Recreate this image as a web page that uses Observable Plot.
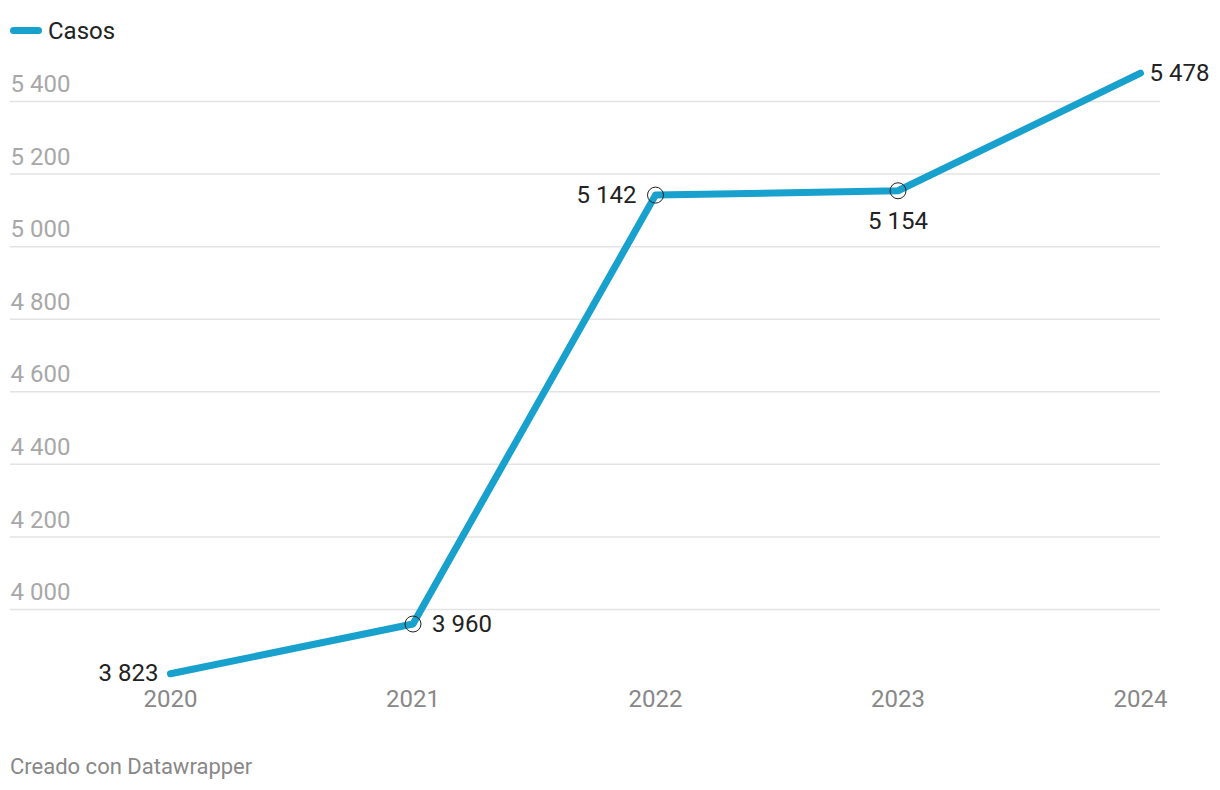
<!DOCTYPE html>
<html>
<head>
<meta charset="utf-8">
<script src="https://cdn.jsdelivr.net/npm/d3@7"></script>
<script src="https://cdn.jsdelivr.net/npm/@observablehq/plot@0.6"></script>
<style>
  html, body { margin: 0; padding: 0; background: #fff; }
  body { width: 1220px; height: 790px; font-family: Roboto, "Noto Sans", sans-serif; position: relative; overflow: hidden; }
  #legend { height: 50px; position: relative; }
  #legend .sw { position: absolute; left: 10px; top: 27px; width: 32px; height: 7px; border-radius: 4px; background: #18a1cd; }
  #legend .lb { position: absolute; left: 48px; top: 31px; transform: translateY(-50%); font-size: 24px; color: #222; line-height: 1; }
  #chart svg { display: block; }
  #footer { position: absolute; left: 10px; top: 767px; transform: translateY(-50%); font-size: 22px; color: #888; line-height: 1; }
</style>
</head>
<body>
<div id="legend"><span class="sw"></span><span class="lb">Casos</span></div>
<div id="chart"></div>
<div id="footer">Creado con Datawrapper</div>
<script>
const years = [2020, 2021, 2022, 2023, 2024];
const casos = [3823, 3960, 5142, 5154, 5478];
const yTicks = [4000, 4200, 4400, 4600, 4800, 5000, 5200, 5400];
const xTicks = [2020, 2021, 2022, 2023, 2024];
const circled = [2021, 2022, 2023];

const data = years.map((y, i) => ({year: y, value: casos[i]}));
const fmt = d3.formatLocale({thousands: " ", grouping: [3], decimal: ","}).format(",d");

// label placement (dx, dy, anchor) per point
const labelPos = {
  2020: {dx: -12, dy: 0, anchor: "end"},
  2021: {dx: 19, dy: 0, anchor: "start"},
  2022: {dx: -19, dy: 0, anchor: "end"},
  2023: {dx: 0, dy: 31, anchor: "middle"},
  2024: {dx: 9, dy: 0, anchor: "start"}
};
const labelMarks = data.map(d => {
  const p = labelPos[d.year];
  return Plot.text([d], {x: "year", y: "value", text: v => fmt(v.value), textAnchor: p.anchor, dx: p.dx, dy: p.dy, fill: "#222", fontSize: 24});
});

const chart = Plot.plot({
  width: 1220,
  height: 690,
  marginLeft: 10,
  marginRight: 60,
  marginTop: 0,
  marginBottom: 34,
  style: {fontFamily: "Roboto, 'Noto Sans', sans-serif", background: "#fff", overflow: "visible"},
  x: {type: "linear", domain: [2020, 2024], range: [170, 1140], axis: null},
  y: {domain: [4000, 5400], range: [559, 51], axis: null},
  marks: [
    Plot.ruleY(yTicks, {stroke: "#e3e3e3", strokeWidth: 1.5}),
    Plot.text(yTicks, {y: d => d, frameAnchor: "left", textAnchor: "start", dy: -17, text: d => fmt(d), fill: "#a8a8a8", fontSize: 24}),
    Plot.text(xTicks, {x: d => d, frameAnchor: "bottom", text: d => String(d), fill: "#888", fontSize: 24}),
    Plot.line(data, {x: "year", y: "value", stroke: "#18a1cd", strokeWidth: 7, strokeLinecap: "round", strokeLinejoin: "round"}),
    Plot.dot(data.filter(d => circled.includes(d.year)), {x: "year", y: "value", r: 8, stroke: "#222", strokeWidth: 1, fill: "none"}),
    ...labelMarks
  ]
});
document.getElementById("chart").appendChild(chart);
</script>
</body>
</html>
